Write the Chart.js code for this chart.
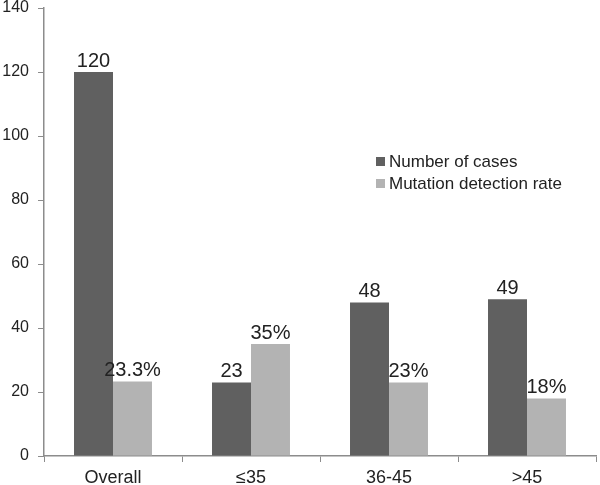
<!DOCTYPE html>
<html lang="en">
<head>
  <meta charset="UTF-8">
  <title>Cases and mutation detection rate by age</title>
  <script src="https://cdn.jsdelivr.net/npm/chart.js"></script>
  <style>
    body {
      margin: 0;
      background: #fff;
      font-family: 'Liberation Sans', Arial, sans-serif;
    }
    .wrap {
      position: relative;
      width: 600px;
      height: 485px;
    }
    .legend {
      position: absolute;
      left: 376px;
      top: 151px;
      font-size: 17px;
      color: #222;
      line-height: 22px;
    }
    .legend span.box {
      display: inline-block;
      width: 9px;
      height: 9px;
      margin-right: 4px;
      vertical-align: 1px;
    }
  </style>
</head>
<body>
  <div class="wrap">
    <canvas id="chart" width="600" height="485"></canvas>
    <div class="legend">
      <div><span class="box" style="background:#606060"></span>Number of cases</div>
      <div><span class="box" style="background:#b3b3b3"></span>Mutation detection rate</div>
    </div>
  </div>

  <script>
    // chart data
    const categories = ['Overall', '≤35', '36-45', '>45'];
    const cases = [120, 23, 48, 49];
    const rates = [23.3, 35, 23, 18];
    const caseLabels = ['120', '23', '48', '49'];
    const rateLabels = ['23.3%', '35%', '23%', '18%'];
    const yTicks = [0, 20, 40, 60, 80, 100, 120, 140];

    // writes the value above each bar
    const barLabels = {
      id: 'barLabels',
      afterDatasetsDraw(chart) {
        const ctx = chart.ctx;
        ctx.save();
        ctx.font = '20px "Liberation Sans", Arial, sans-serif';
        ctx.fillStyle = '#222';
        ctx.textAlign = 'center';
        ctx.textBaseline = 'alphabetic';
        const texts = [caseLabels, rateLabels];
        chart.data.datasets.forEach((ds, i) => {
          chart.getDatasetMeta(i).data.forEach((bar, j) => {
            ctx.fillText(texts[i][j], bar.x, bar.y - 5);
          });
        });
        ctx.restore();
      }
    };

    new Chart(document.getElementById('chart'), {
      type: 'bar',
      data: {
        labels: categories,
        datasets: [{
          label: 'Number of cases',
          data: cases,
          backgroundColor: '#606060'
        }, {
          label: 'Mutation detection rate',
          data: rates,
          backgroundColor: '#b3b3b3'
        }]
      },
      options: {
        responsive: false,
        animation: false,
        categoryPercentage: 0.565,
        barPercentage: 1,
        layout: { padding: { top: 8, right: 4, left: 0, bottom: 0 } },
        plugins: {
          legend: { display: false },
          tooltip: { enabled: false }
        },
        scales: {
          x: {
            grid: { display: true, drawOnChartArea: false, drawTicks: true, tickLength: 6, color: '#8c8c8c', offset: true },
            border: { color: '#8c8c8c', width: 1.5 },
            ticks: { color: '#222', font: { size: 18, family: 'Liberation Sans' }, padding: 5 },
            afterFit(scale) { scale.height = 29; scale.paddingLeft = 0; scale.paddingRight = 0; }
          },
          y: {
            min: 0,
            max: 140,
            afterBuildTicks(scale) { scale.ticks = yTicks.map(v => ({ value: v })); },
            grid: { display: true, drawOnChartArea: false, drawTicks: true, tickLength: 6, color: '#8c8c8c' },
            border: { color: '#8c8c8c', width: 1.5 },
            ticks: { color: '#222', font: { size: 16, family: 'Liberation Sans' }, padding: 9 },
            afterFit(scale) { scale.width = 44; scale.paddingTop = 0; scale.paddingBottom = 0; }
          }
        }
      },
      plugins: [barLabels]
    });
  </script>
</body>
</html>
